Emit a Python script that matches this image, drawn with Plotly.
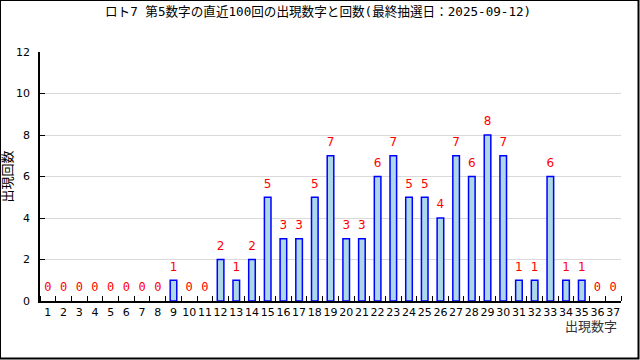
import plotly.graph_objects as go

title = "ロト7 第5数字の直近100回の出現数字と回数(最終抽選日：2025-09-12)"
numbers = list(range(1, 38))
counts = [0, 0, 0, 0, 0, 0, 0, 0, 1, 0, 0, 2, 1, 2, 5, 3, 3, 5, 7, 3,
          3, 6, 7, 5, 5, 4, 7, 6, 8, 7, 1, 1, 6, 1, 1, 0, 0]
x_title = "出現数字"
y_title = "出現回数"

W, H = 640, 360
L, R, T, B = 40, 19, 52, 59
PW, PH = W - L - R, H - T - B


def px(x):
    return (x - L) / PW


def py(y):
    return (H - B - y) / PH


fig = go.Figure()
fig.add_trace(go.Bar(
    x=numbers, y=counts, width=0.42,
    marker=dict(color="#add8e6",
                line=dict(color="#0000ff", width=[1.5 if c > 0 else 0 for c in counts])),
    hoverinfo="skip", showlegend=False,
))
fig.add_trace(go.Scatter(
    x=numbers, y=counts, mode="markers+text",
    marker=dict(size=9, color="rgba(0,0,0,0)"),
    text=[str(c) for c in counts], textposition="top center",
    textfont=dict(color="#ff0000", size=12,
                  family=["DejaVu Sans Mono" if c == 0 else "DejaVu Sans" for c in counts]),
    hoverinfo="skip", showlegend=False, cliponaxis=False,
))

fig.update_layout(
    width=W, height=H,
    margin=dict(l=L, r=R, t=T, b=B, autoexpand=False),
    paper_bgcolor="white", plot_bgcolor="white",
    font=dict(family="DejaVu Sans, Noto Sans CJK JP", size=11, color="#000000"),
    title=dict(text=title, x=0.497, xanchor="center", y=1 - 12 / H, yanchor="middle",
               font=dict(size=12.6, family="DejaVu Sans Mono, Noto Sans CJK JP"),
               automargin=False),
    xaxis=dict(range=[0.5, 37.5], tickvals=numbers, ticktext=[str(n) for n in numbers],
               ticks="", showgrid=False, zeroline=False, tickangle=0, automargin=False,
               showline=True, linecolor="#000000", linewidth=1.5,
               tickfont=dict(size=11),
               minor=dict(tick0=0.5, dtick=1, ticks="inside", ticklen=5,
                          tickcolor="#000000", showgrid=False)),
    yaxis=dict(range=[0, 12], tickvals=[0, 2, 4, 6, 8, 10, 12], ticks="inside",
               ticklen=5, tickcolor="#000000", showgrid=True, gridcolor="#d9d9d9",
               zeroline=False, showline=True, linecolor="#000000", linewidth=1.5,
               tickfont=dict(size=11), ticklabelstandoff=6, automargin=False,
               title=dict(text=y_title, standoff=6, font=dict(size=13))),
    annotations=[dict(text=x_title, xref="paper", yref="paper", x=px(619), y=py(317),
                      xanchor="right", yanchor="top", showarrow=False,
                      font=dict(size=13, color="#333333"))],
    shapes=[
        dict(type="rect", xref="paper", yref="paper", x0=px(0), x1=px(638.5),
             y0=py(358.5), y1=py(0), line=dict(color="black", width=2),
             fillcolor="rgba(0,0,0,0)", layer="above"),
    ],
)

fig.write_html("out.html", config={"displayModeBar": False},
               post_script="document.body.style.margin='0';")
